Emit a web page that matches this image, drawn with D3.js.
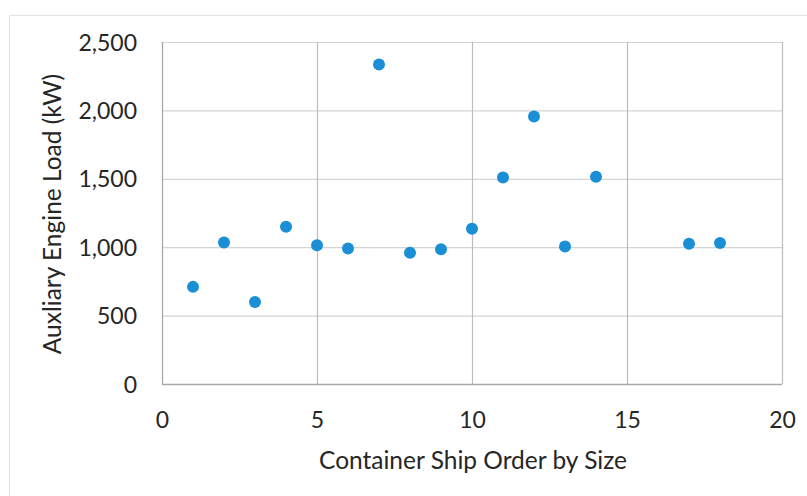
<!DOCTYPE html>
<html><head><meta charset="utf-8">
<script src="https://cdn.jsdelivr.net/npm/d3@7"></script>
<style>body{margin:0;background:#fff;} svg{display:block;}</style>
</head><body>
<svg id="c" width="807" height="496"></svg>
<script>
const shipOrder = [1,2,3,4,5,6,7,8,9,10,11,12,13,14,17,18];
const engineLoad = [710,1035,600,1150,1015,990,2335,960,985,1135,1510,1955,1005,1515,1025,1030];
const xTicks = [0,5,10,15,20];
const yTicks = [0,500,1000,1500,2000,2500];
const xTitle = "Container Ship Order by Size";
const yTitle = "Auxliary Engine Load (kW)";

const svg = d3.select("#c");
const font = "Lato, 'Open Sans', sans-serif";
const m = {l:162, r:782, t:42, b:384};
const x = d3.scaleLinear().domain([0,20]).range([m.l,m.r]);
const y = d3.scaleLinear().domain([0,2500]).range([m.b,m.t]);

// outer chart border
svg.append("rect").attr("x",9.5).attr("y",15.5).attr("width",820).attr("height",500)
  .attr("fill","none").attr("stroke","#e2e2e2");

// horizontal gridlines
svg.append("g").selectAll("line").data(yTicks.slice(1)).join("line")
  .attr("x1",m.l).attr("x2",m.r).attr("y1",d=>y(d)+0.5).attr("y2",d=>y(d)+0.5)
  .attr("stroke","#d4d4d4").attr("stroke-width",1.2);
// vertical gridlines
svg.append("g").selectAll("line").data(xTicks.slice(1)).join("line")
  .attr("x1",d=>x(d)+0.5).attr("x2",d=>x(d)+0.5).attr("y1",m.t).attr("y2",m.b)
  .attr("stroke","#bdbdbd").attr("stroke-width",1.2);
// axes lines
svg.append("line").attr("x1",m.l+0.5).attr("x2",m.l+0.5).attr("y1",m.t).attr("y2",m.b)
  .attr("stroke","#a8a8a8").attr("stroke-width",1.3);
svg.append("line").attr("x1",m.l).attr("x2",m.r).attr("y1",m.b+0.5).attr("y2",m.b+0.5)
  .attr("stroke","#a8a8a8").attr("stroke-width",1.3);

// axes via d3
const fmt = d3.format(",");
const gx = svg.append("g").attr("transform",`translate(0,${m.b})`)
  .call(d3.axisBottom(x).tickValues(xTicks).tickSize(0).tickPadding(28).tickFormat(d=>d));
const gy = svg.append("g").attr("transform",`translate(${m.l},0)`)
  .call(d3.axisLeft(y).tickValues(yTicks).tickSize(0).tickPadding(25).tickFormat(fmt));
[gx,gy].forEach(g=>{
  g.select(".domain").remove();
  g.selectAll("text").attr("font-family",font).attr("font-size",23).attr("fill","#262626");
});
gy.selectAll("text").attr("dy","0.35em");

// titles
svg.append("text").attr("x",473).attr("y",469).attr("text-anchor","middle")
  .attr("font-family",font).attr("font-size",24.5).attr("fill","#262626").text(xTitle);
svg.append("text").attr("transform","translate(61,214) rotate(-90)").attr("text-anchor","middle")
  .attr("font-family",font).attr("font-size",24.5).attr("fill","#262626").text(yTitle);

// points
svg.append("g").selectAll("circle").data(shipOrder).join("circle")
  .attr("cx",(d,i)=>x(d)).attr("cy",(d,i)=>y(engineLoad[i])).attr("r",6)
  .attr("fill","#1a8fd6");
</script>
</body></html>
